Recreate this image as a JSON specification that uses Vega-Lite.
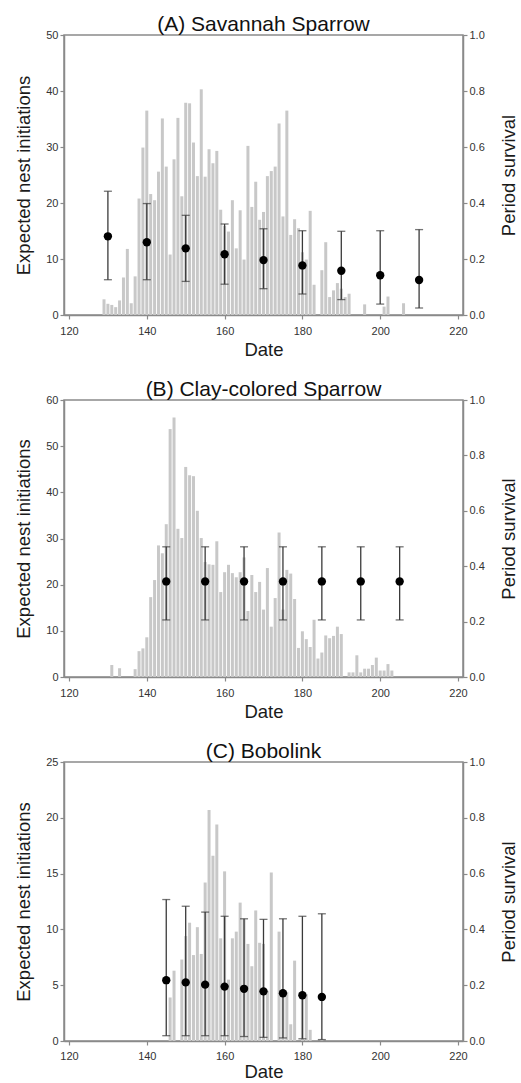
{
  "$schema": "https://vega.github.io/schema/vega-lite/v6.json",
  "background": "white",
  "padding": {"left": 14, "top": 13, "right": 1, "bottom": 0},
  "spacing": 18,
  "config": {
    "font": "Liberation Sans",
    "view": {"stroke": "#8a8a8a", "strokeWidth": 1.5},
    "axis": {"domainColor": "#8a8a8a", "domainWidth": 1.5, "tickColor": "#8a8a8a", "tickSize": 4, "tickWidth": 1.2, "labelFontSize": 11, "labelColor": "#333333", "titleFontSize": 18.5, "titleFontWeight": "normal", "titleColor": "#1a1a1a", "grid": false, "labelFlush": false},
    "title": {"fontSize": 21, "fontWeight": "normal", "color": "#111111", "offset": -6}
  },
  "datasets": {
    "barsA": [
      {"day":129,"n":2.8},{"day":130,"n":2.0},{"day":131,"n":1.8},{"day":132,"n":1.4},{"day":133,"n":2.6},{"day":134,"n":6.7},{"day":135,"n":11.8},{"day":136,"n":2.1},{"day":137,"n":6.9},{"day":138,"n":20.8},{"day":139,"n":29.9},{"day":140,"n":36.5},{"day":141,"n":21.6},{"day":142,"n":20.5},{"day":143,"n":25.6},{"day":144,"n":35.1},{"day":145,"n":26.5},{"day":146,"n":10.8},{"day":147,"n":27.8},{"day":148,"n":35.2},{"day":149,"n":21.2},{"day":150,"n":37.9},{"day":151,"n":37.8},{"day":152,"n":30.8},{"day":153,"n":24.8},{"day":154,"n":40.3},{"day":155,"n":24.7},{"day":156,"n":29.6},{"day":157,"n":27.1},{"day":158,"n":29.3},{"day":159,"n":18.8},{"day":160,"n":15.9},{"day":161,"n":14.9},{"day":162,"n":20.5},{"day":163,"n":11.9},{"day":164,"n":18.7},{"day":165,"n":9.9},{"day":166,"n":30.2},{"day":167,"n":19.3},{"day":168,"n":23.8},{"day":169,"n":17.0},{"day":170,"n":18.4},{"day":171,"n":24.8},{"day":172,"n":25.7},{"day":173,"n":26.5},{"day":174,"n":34.2},{"day":175,"n":17.6},{"day":176,"n":36.5},{"day":177,"n":14.3},{"day":178,"n":17.1},{"day":179,"n":15.5},{"day":180,"n":11.2},{"day":181,"n":9.9},{"day":182,"n":18.6},{"day":183,"n":5.4},{"day":185,"n":8.0},{"day":186,"n":13.0},{"day":187,"n":3.2},{"day":188,"n":4.4},{"day":189,"n":5.7},{"day":190,"n":4.7},{"day":191,"n":3.2},{"day":192,"n":3.8},{"day":196,"n":1.9},{"day":201,"n":1.5},{"day":202,"n":3.3},{"day":206,"n":2.1}
    ],
    "ptsA": [
      {"day":130,"s":0.281,"lo":0.126,"hi":0.442},{"day":140,"s":0.260,"lo":0.126,"hi":0.398},{"day":150,"s":0.238,"lo":0.120,"hi":0.356},{"day":160,"s":0.217,"lo":0.110,"hi":0.325},{"day":170,"s":0.196,"lo":0.094,"hi":0.308},{"day":180,"s":0.177,"lo":0.075,"hi":0.301},{"day":190,"s":0.158,"lo":0.055,"hi":0.299},{"day":200,"s":0.142,"lo":0.039,"hi":0.301},{"day":210,"s":0.125,"lo":0.025,"hi":0.305}
    ],
    "barsB": [
      {"day":131,"n":2.6},{"day":133,"n":1.9},{"day":137,"n":1.7},{"day":138,"n":5.6},{"day":139,"n":6.2},{"day":140,"n":8.6},{"day":141,"n":17.3},{"day":142,"n":21.0},{"day":143,"n":28.5},{"day":144,"n":26.8},{"day":145,"n":33.1},{"day":146,"n":53.7},{"day":147,"n":56.2},{"day":148,"n":32.1},{"day":149,"n":30.1},{"day":150,"n":45.5},{"day":151,"n":43.7},{"day":152,"n":43.5},{"day":153,"n":36.0},{"day":154,"n":30.1},{"day":155,"n":24.9},{"day":156,"n":24.4},{"day":157,"n":24.3},{"day":158,"n":29.4},{"day":159,"n":18.4},{"day":160,"n":22.7},{"day":161,"n":24.3},{"day":162,"n":22.5},{"day":163,"n":21.6},{"day":164,"n":22.7},{"day":165,"n":25.9},{"day":166,"n":14.3},{"day":167,"n":22.1},{"day":168,"n":18.4},{"day":169,"n":20.6},{"day":170,"n":14.6},{"day":171,"n":23.6},{"day":172,"n":10.9},{"day":173,"n":17.1},{"day":174,"n":31.3},{"day":175,"n":14.6},{"day":176,"n":23.2},{"day":177,"n":22.4},{"day":178,"n":16.9},{"day":179,"n":6.3},{"day":180,"n":9.9},{"day":181,"n":8.2},{"day":182,"n":6.5},{"day":183,"n":12.4},{"day":184,"n":4.0},{"day":185,"n":5.3},{"day":186,"n":9.0},{"day":187,"n":8.4},{"day":188,"n":8.9},{"day":189,"n":10.9},{"day":190,"n":9.3},{"day":192,"n":1.0},{"day":193,"n":1.0},{"day":194,"n":4.7},{"day":195,"n":1.0},{"day":196,"n":1.8},{"day":197,"n":1.8},{"day":198,"n":2.6},{"day":199,"n":4.2},{"day":200,"n":1.4},{"day":201,"n":1.4},{"day":202,"n":2.8},{"day":203,"n":1.4}
    ],
    "ptsB": [
      {"day":145,"s":0.345,"lo":0.206,"hi":0.470},{"day":155,"s":0.345,"lo":0.206,"hi":0.470},{"day":165,"s":0.345,"lo":0.206,"hi":0.470},{"day":175,"s":0.345,"lo":0.206,"hi":0.470},{"day":185,"s":0.345,"lo":0.206,"hi":0.470},{"day":195,"s":0.345,"lo":0.206,"hi":0.470},{"day":205,"s":0.345,"lo":0.206,"hi":0.470}
    ],
    "barsC": [
      {"day":146,"n":3.9},{"day":147,"n":6.3},{"day":149,"n":7.3},{"day":150,"n":9.4},{"day":151,"n":10.6},{"day":152,"n":7.7},{"day":153,"n":10.2},{"day":154,"n":7.8},{"day":155,"n":14.2},{"day":156,"n":20.7},{"day":157,"n":16.6},{"day":158,"n":19.4},{"day":159,"n":9.2},{"day":160,"n":15.2},{"day":161,"n":5.5},{"day":162,"n":9.2},{"day":163,"n":9.8},{"day":164,"n":12.4},{"day":165,"n":10.9},{"day":166,"n":8.7},{"day":167,"n":6.7},{"day":168,"n":11.7},{"day":169,"n":8.8},{"day":170,"n":8.7},{"day":171,"n":4.5},{"day":172,"n":15.1},{"day":174,"n":9.8},{"day":175,"n":4.4},{"day":176,"n":4.4},{"day":177,"n":1.5},{"day":178,"n":7.2},{"day":180,"n":4.2},{"day":181,"n":4.2},{"day":182,"n":1.0},{"day":185,"n":0.2}
    ],
    "ptsC": [
      {"day":145,"s":0.218,"lo":0.019,"hi":0.507},{"day":150,"s":0.210,"lo":0.019,"hi":0.483},{"day":155,"s":0.202,"lo":0.019,"hi":0.462},{"day":160,"s":0.195,"lo":0.019,"hi":0.447},{"day":165,"s":0.187,"lo":0.016,"hi":0.438},{"day":170,"s":0.178,"lo":0.013,"hi":0.436},{"day":175,"s":0.171,"lo":0.011,"hi":0.438},{"day":180,"s":0.164,"lo":0.008,"hi":0.447},{"day":185,"s":0.158,"lo":0.005,"hi":0.456}
    ]
  },
  "vconcat": [
    {
      "title": "(A) Savannah Sparrow",
      "width": 399, "height": 280,
      "layer": [
        {
          "data": {"name": "barsA"},
          "mark": {"type": "bar", "orient": "vertical", "width": 3, "color": "#c8c8c8"},
          "encoding": {
            "x": {"field": "day", "type": "quantitative", "scale": {"domain": [120, 220]}, "axis": {"title": "Date", "values": [120,140,160,180,200,220], "labelPadding": 6, "titlePadding": 4}},
            "y": {"field": "n", "type": "quantitative", "scale": {"domain": [0, 50]}, "axis": {"orient": "left", "title": "Expected nest initiations", "values": [0,10,20,30,40,50], "titlePadding": 12}}
          }
        },
        {
          "data": {"name": "ptsA"},
          "encoding": {
            "x": {"field": "day", "type": "quantitative", "scale": {"domain": [120, 220]}}
          },
          "layer": [
            {"mark": {"type": "rule", "color": "#3a3a3a", "strokeWidth": 1.3}, "encoding": {"y": {"field": "lo", "type": "quantitative", "scale": {"domain": [0, 1]}, "axis": {"orient": "right", "title": "Period survival", "values": [0,0.2,0.4,0.6,0.8,1.0], "format": ".1f", "titleAngle": 270, "titleBaseline": "top", "titlePadding": 15}}, "y2": {"field": "hi"}}},
            {"mark": {"type": "tick", "orient": "horizontal", "color": "#3a3a3a", "size": 8, "thickness": 1.3}, "encoding": {"y": {"field": "lo", "type": "quantitative"}}},
            {"mark": {"type": "tick", "orient": "horizontal", "color": "#3a3a3a", "size": 8, "thickness": 1.3}, "encoding": {"y": {"field": "hi", "type": "quantitative"}}},
            {"mark": {"type": "point", "filled": true, "color": "#000000", "size": 70, "opacity": 1}, "encoding": {"y": {"field": "s", "type": "quantitative"}}}
          ]
        }
      ],
      "resolve": {"scale": {"y": "independent"}}
    },
    {
      "title": "(B) Clay-colored Sparrow",
      "width": 399, "height": 277,
      "layer": [
        {
          "data": {"name": "barsB"},
          "mark": {"type": "bar", "orient": "vertical", "width": 3, "color": "#c8c8c8"},
          "encoding": {
            "x": {"field": "day", "type": "quantitative", "scale": {"domain": [120, 220]}, "axis": {"title": "Date", "values": [120,140,160,180,200,220], "labelPadding": 6, "titlePadding": 4}},
            "y": {"field": "n", "type": "quantitative", "scale": {"domain": [0, 60]}, "axis": {"orient": "left", "title": "Expected nest initiations", "values": [0,10,20,30,40,50,60], "titlePadding": 12}}
          }
        },
        {
          "data": {"name": "ptsB"},
          "encoding": {
            "x": {"field": "day", "type": "quantitative", "scale": {"domain": [120, 220]}}
          },
          "layer": [
            {"mark": {"type": "rule", "color": "#3a3a3a", "strokeWidth": 1.3}, "encoding": {"y": {"field": "lo", "type": "quantitative", "scale": {"domain": [0, 1]}, "axis": {"orient": "right", "title": "Period survival", "values": [0,0.2,0.4,0.6,0.8,1.0], "format": ".1f", "titleAngle": 270, "titleBaseline": "top", "titlePadding": 15}}, "y2": {"field": "hi"}}},
            {"mark": {"type": "tick", "orient": "horizontal", "color": "#3a3a3a", "size": 8, "thickness": 1.3}, "encoding": {"y": {"field": "lo", "type": "quantitative"}}},
            {"mark": {"type": "tick", "orient": "horizontal", "color": "#3a3a3a", "size": 8, "thickness": 1.3}, "encoding": {"y": {"field": "hi", "type": "quantitative"}}},
            {"mark": {"type": "point", "filled": true, "color": "#000000", "size": 70, "opacity": 1}, "encoding": {"y": {"field": "s", "type": "quantitative"}}}
          ]
        }
      ],
      "resolve": {"scale": {"y": "independent"}}
    },
    {
      "title": "(C) Bobolink",
      "width": 399, "height": 279,
      "layer": [
        {
          "data": {"name": "barsC"},
          "mark": {"type": "bar", "orient": "vertical", "width": 3, "color": "#c8c8c8"},
          "encoding": {
            "x": {"field": "day", "type": "quantitative", "scale": {"domain": [120, 220]}, "axis": {"title": "Date", "values": [120,140,160,180,200,220], "labelPadding": 5, "titlePadding": 1}},
            "y": {"field": "n", "type": "quantitative", "scale": {"domain": [0, 25]}, "axis": {"orient": "left", "title": "Expected nest initiations", "values": [0,5,10,15,20,25], "titlePadding": 12}}
          }
        },
        {
          "data": {"name": "ptsC"},
          "encoding": {
            "x": {"field": "day", "type": "quantitative", "scale": {"domain": [120, 220]}}
          },
          "layer": [
            {"mark": {"type": "rule", "color": "#3a3a3a", "strokeWidth": 1.3}, "encoding": {"y": {"field": "lo", "type": "quantitative", "scale": {"domain": [0, 1]}, "axis": {"orient": "right", "title": "Period survival", "values": [0,0.2,0.4,0.6,0.8,1.0], "format": ".1f", "titleAngle": 270, "titleBaseline": "top", "titlePadding": 15}}, "y2": {"field": "hi"}}},
            {"mark": {"type": "tick", "orient": "horizontal", "color": "#3a3a3a", "size": 8, "thickness": 1.3}, "encoding": {"y": {"field": "lo", "type": "quantitative"}}},
            {"mark": {"type": "tick", "orient": "horizontal", "color": "#3a3a3a", "size": 8, "thickness": 1.3}, "encoding": {"y": {"field": "hi", "type": "quantitative"}}},
            {"mark": {"type": "point", "filled": true, "color": "#000000", "size": 70, "opacity": 1}, "encoding": {"y": {"field": "s", "type": "quantitative"}}}
          ]
        }
      ],
      "resolve": {"scale": {"y": "independent"}}
    }
  ]
}
